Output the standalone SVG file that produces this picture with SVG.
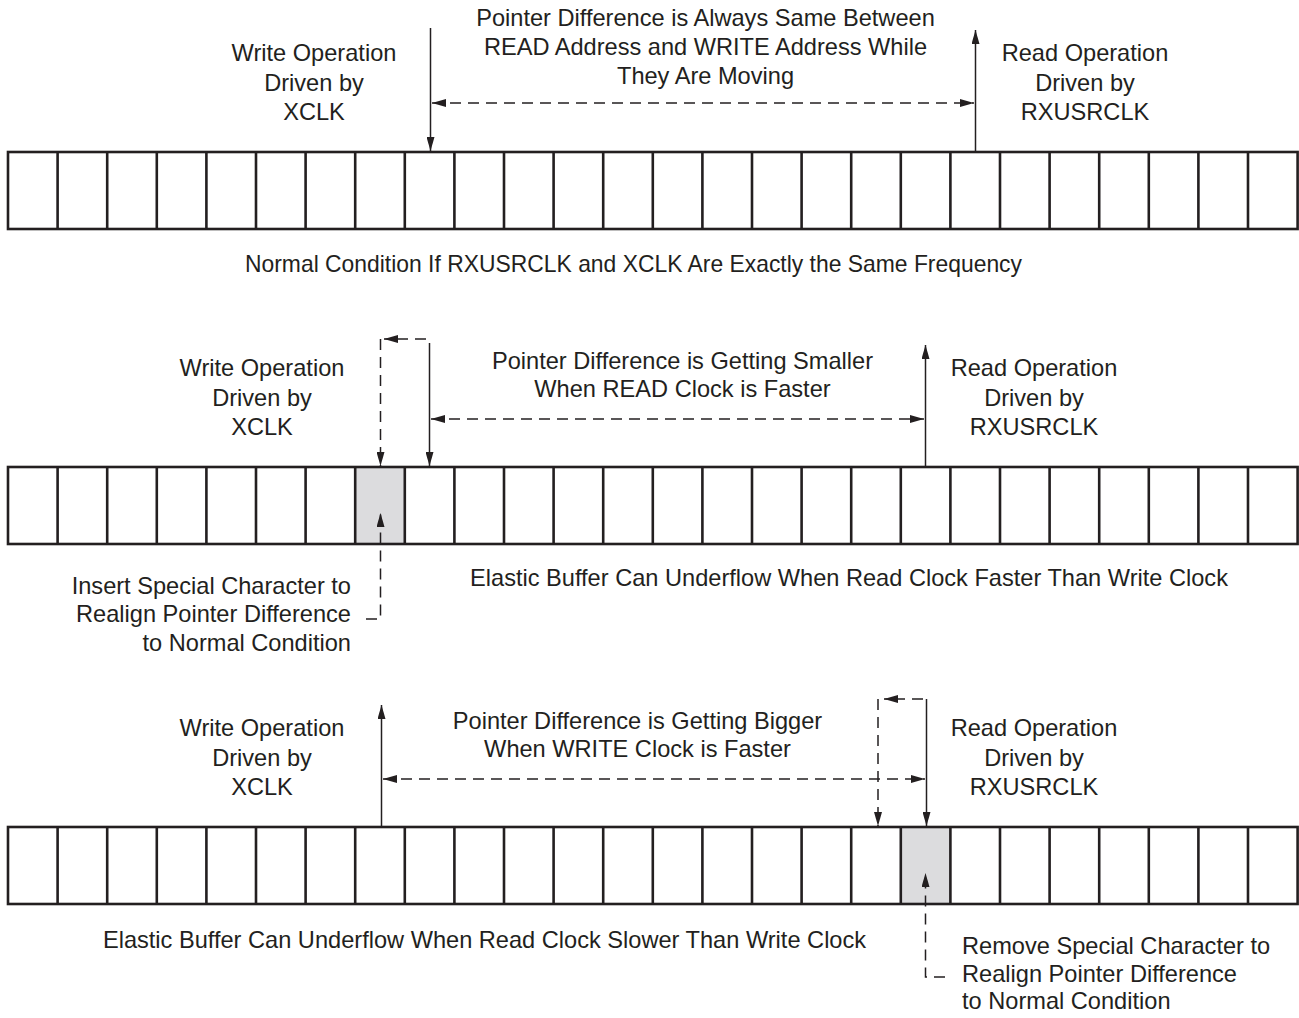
<svg xmlns="http://www.w3.org/2000/svg" width="1299" height="1018" viewBox="0 0 1299 1018">
<defs>
<marker id="ah" viewBox="0 0 14 8" markerWidth="14" markerHeight="8" refX="14" refY="4" orient="auto-start-reverse" markerUnits="userSpaceOnUse">
<path d="M0,0 L14,4 L0,8 z" fill="#231f20"/>
</marker>
<g id="cells">
<rect x="8" y="0" width="1289.6" height="77" fill="none" stroke="#231f20" stroke-width="2.6"/>
<path d="M57.6,0V77M107.2,0V77M156.8,0V77M206.4,0V77M256,0V77M305.6,0V77M355.2,0V77M404.8,0V77M454.4,0V77M504,0V77M553.6,0V77M603.2,0V77M652.8,0V77M702.4,0V77M752,0V77M801.6,0V77M851.2,0V77M900.8,0V77M950.4,0V77M1000,0V77M1049.6,0V77M1099.2,0V77M1148.8,0V77M1198.4,0V77M1248,0V77" stroke="#231f20" stroke-width="2.6" fill="none"/>
</g>
</defs>
<style>
text{font-family:"Liberation Sans",Arial,Helvetica,sans-serif;font-size:23.6px;fill:#231f20}
.m{text-anchor:middle}
.e{text-anchor:end}
.sol{stroke:#231f20;stroke-width:1.5;fill:none}
.dash{stroke:#231f20;stroke-width:1.5;fill:none;stroke-dasharray:11 7}
.gray{fill:#dcdcde}
</style>
<rect width="1299" height="1018" fill="#ffffff"/>

<g id="buffer1">
<use href="#cells" y="152"/>
</g>
<g id="buffer2">
<rect class="gray" x="355.2" y="467" width="49.6" height="77"/>
<use href="#cells" y="467"/>
</g>
<g id="buffer3">
<rect class="gray" x="900.8" y="827" width="49.6" height="77"/>
<use href="#cells" y="827"/>
</g>

<g id="labels1">
<text class="m" x="314" y="61">Write Operation</text>
<text class="m" x="314" y="91">Driven by</text>
<text class="m" x="314" y="120">XCLK</text>
<text class="m" x="705.5" y="26">Pointer Difference is Always Same Between</text>
<text class="m" x="705.5" y="55">READ Address and WRITE Address While</text>
<text class="m" x="705.5" y="84">They Are Moving</text>
<text class="m" x="1085" y="61">Read Operation</text>
<text class="m" x="1085" y="91">Driven by</text>
<text class="m" x="1085" y="120">RXUSRCLK</text>
<text class="m" x="633.5" y="272" textLength="777" lengthAdjust="spacingAndGlyphs">Normal Condition If RXUSRCLK and XCLK Are Exactly the Same Frequency</text>
</g>

<g id="labels2">
<text class="m" x="262" y="376">Write Operation</text>
<text class="m" x="262" y="406">Driven by</text>
<text class="m" x="262" y="435">XCLK</text>
<text class="m" x="682.5" y="369">Pointer Difference is Getting Smaller</text>
<text class="m" x="682.5" y="397">When READ Clock is Faster</text>
<text class="m" x="1034" y="376">Read Operation</text>
<text class="m" x="1034" y="406">Driven by</text>
<text class="m" x="1034" y="435">RXUSRCLK</text>
<text class="m" x="849" y="586">Elastic Buffer Can Underflow When Read Clock Faster Than Write Clock</text>
<text class="e" x="351" y="594">Insert Special Character to</text>
<text class="e" x="351" y="622">Realign Pointer Difference</text>
<text class="e" x="351" y="651">to Normal Condition</text>
</g>

<g id="labels3">
<text class="m" x="262" y="736">Write Operation</text>
<text class="m" x="262" y="766">Driven by</text>
<text class="m" x="262" y="795">XCLK</text>
<text class="m" x="637.5" y="729">Pointer Difference is Getting Bigger</text>
<text class="m" x="637.5" y="757">When WRITE Clock is Faster</text>
<text class="m" x="1034" y="736">Read Operation</text>
<text class="m" x="1034" y="766">Driven by</text>
<text class="m" x="1034" y="795">RXUSRCLK</text>
<text class="m" x="484.5" y="948">Elastic Buffer Can Underflow When Read Clock Slower Than Write Clock</text>
<text x="962" y="954">Remove Special Character to</text>
<text x="962" y="982">Realign Pointer Difference</text>
<text x="962" y="1009">to Normal Condition</text>
</g>

<g id="connectors">
<line class="sol" x1="430.5" y1="28" x2="430.5" y2="151" marker-end="url(#ah)"/>
<line class="sol" x1="975.5" y1="151" x2="975.5" y2="30" marker-end="url(#ah)"/>
<line class="dash" x1="432" y1="103" x2="974" y2="103" marker-start="url(#ah)" marker-end="url(#ah)"/>
<line class="sol" x1="429.5" y1="343" x2="429.5" y2="466" marker-end="url(#ah)"/>
<line class="sol" x1="925.5" y1="466" x2="925.5" y2="345" marker-end="url(#ah)"/>
<line class="dash" x1="431" y1="419" x2="924" y2="419" marker-start="url(#ah)" marker-end="url(#ah)"/>
<line class="dash" x1="426" y1="339" x2="384" y2="339" marker-end="url(#ah)"/>
<line class="dash" x1="380.5" y1="339" x2="380.5" y2="466" marker-end="url(#ah)"/>
<path class="dash" d="M366,619 H380.5 V513" marker-end="url(#ah)"/>
<line class="sol" x1="381.5" y1="826" x2="381.5" y2="705" marker-end="url(#ah)"/>
<line class="sol" x1="926.5" y1="699" x2="926.5" y2="826" marker-end="url(#ah)"/>
<line class="dash" x1="383" y1="779" x2="925" y2="779" marker-start="url(#ah)" marker-end="url(#ah)"/>
<line class="dash" x1="923" y1="699" x2="884" y2="699" marker-end="url(#ah)"/>
<line class="dash" x1="878" y1="699" x2="878" y2="826" marker-end="url(#ah)"/>
<path class="dash" d="M945,977 H925.5 V873" marker-end="url(#ah)"/>
</g>
</svg>
